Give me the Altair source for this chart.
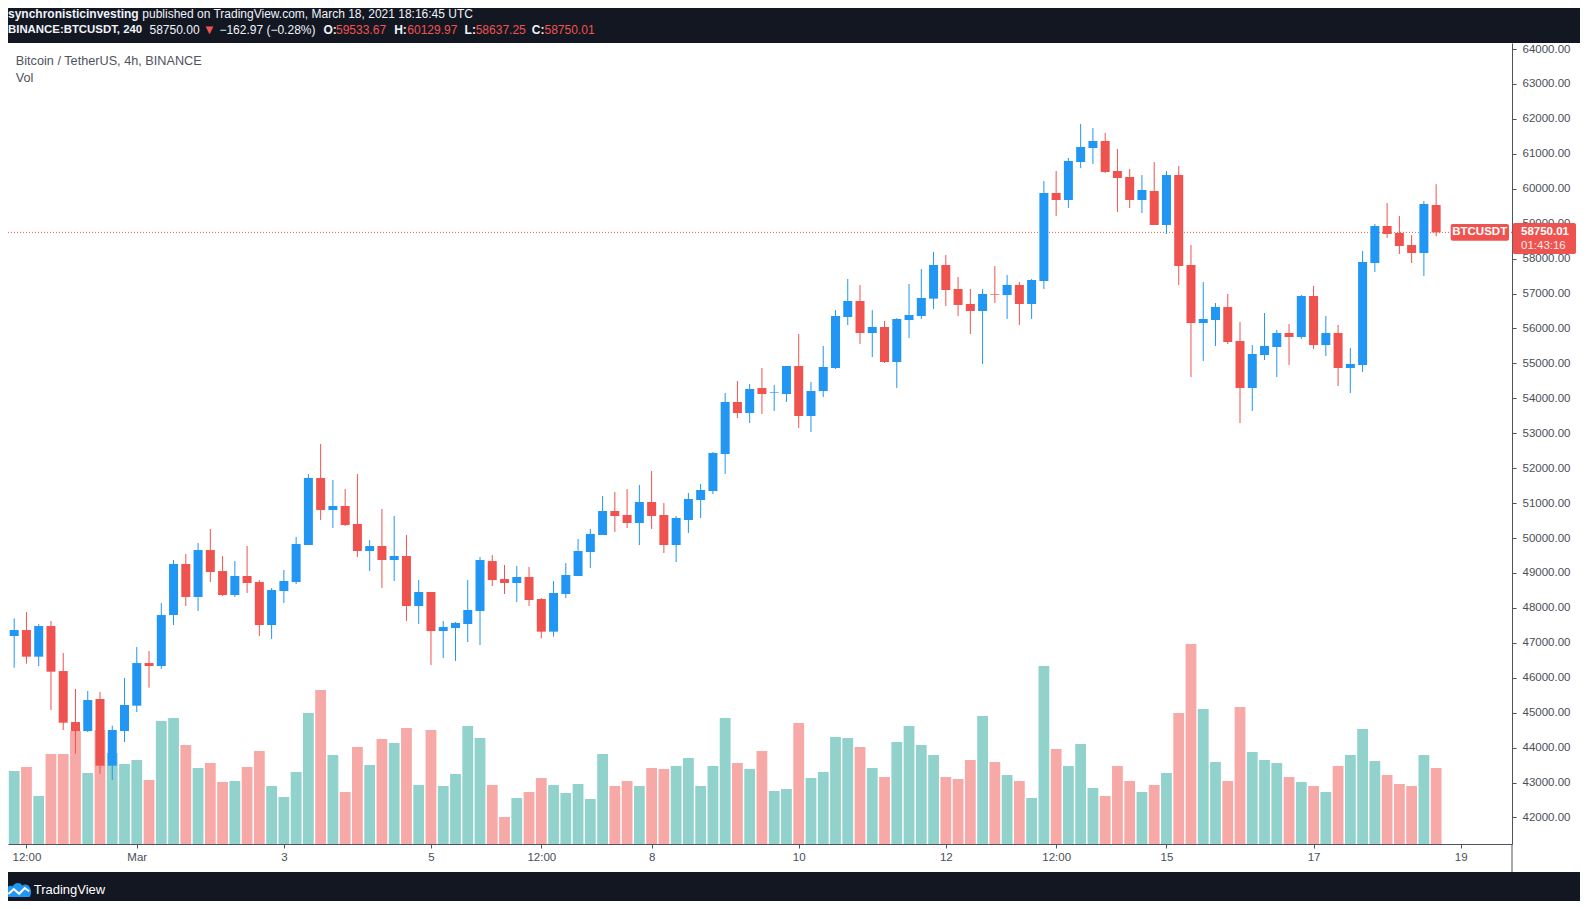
import altair as alt
import pandas as pd

FONT = "Liberation Sans"
BLUE = "#2196F3"
RED = "#EF5350"
VUP = "#92D2CC"
VDN = "#F7A9A7"
DARK = "#131722"
AXIS = "#50535E"
LBL = "#4A4E59"
HEAD = "#F0F3FA"
HRED = "#F05350"

# ---- data (4h candles, Feb 27 08:00 UTC -> Mar 18 16:00 UTC) ----
opens = [47194, 47366, 46603, 47480, 46192, 44732, 44474, 45391, 43482, 44474, 45200, 46421, 46335,
         47795, 49256, 48311, 49656, 49055, 48368, 48912, 48740, 47509, 48483, 48740, 49800, 51718, 50801, 50916,
         50401, 49628, 49771, 49370, 49485, 48053, 48454, 47337, 47423, 47538, 47910, 49341, 48826, 48712, 48883, 48254,
         47319, 48397, 48912, 49600, 50086, 50773, 50659, 50430, 51031, 50659, 49800, 50516, 51088, 51346, 52405,
         53894, 53579, 54294, 54151, 54123, 54924, 53493, 54208, 54867, 56327, 56785, 55869, 56041, 55039, 56241, 56356,
         56853, 57817, 57130, 56700, 56500, 56986, 56958, 57244, 56700, 57358, 59878, 59677, 60765, 61166, 61367, 60508,
         60335, 59677, 59934, 58961, 60392, 57816, 56155, 56241, 56613, 55640, 54294, 55239, 55468, 55869, 55755, 56928,
         55525, 55869, 54867, 54953, 57873, 58932, 58732, 58388, 58159, 59533.67]
highs = [47700, 47881, 47538, 47624, 46708, 45677, 45620, 45591, 44627, 45992, 46879, 46765, 48139,
         49370, 49542, 49857, 50258, 49485, 49341, 49771, 48797, 48568, 49084, 50029, 51832, 52691, 51660, 51403,
         51832, 49943, 50830, 50630, 50086, 48797, 48454, 47624, 47595, 48797, 49456, 49513, 49227, 49198, 49170, 48283,
         48769, 49284, 49972, 50258, 51203, 51317, 51403, 51518, 51919, 51003, 50630, 51289, 51547, 52462, 54152,
         54495, 54409, 54867, 54380, 54924, 55840, 54466, 55497, 56527, 57415, 57243, 56527, 56213, 56298, 57272, 57701,
         58189, 58103, 57473, 57129, 57129, 57788, 57530, 57330, 57416, 60221, 60508, 60880, 61853, 61739, 61596, 61137,
         60564, 60392, 60764, 60507, 60650, 58388, 57329, 56728, 56985, 56184, 55525, 56442, 55955, 56127, 56957, 57214,
         56356, 56098, 55440, 58217, 58990, 59591, 59219, 58675, 59648, 60129.97]
lows = [46288, 46402, 46335, 45076, 44503, 43826, 44446, 43253, 43072, 44160, 45018, 45715, 46250,
        47509, 48053, 47910, 48740, 48340, 48311, 48426, 47194, 47108, 48139, 48683, 49800, 50515, 50286, 50343,
        49456, 49055, 48568, 48769, 47624, 47538, 46364, 46564, 46479, 47022, 46936, 48626, 48397, 48168, 48053, 47128,
        47175, 48283, 48912, 49141, 50086, 50172, 50287, 49800, 50258, 49571, 49313, 50144, 50573, 51260, 51833,
        53436, 53292, 53550, 53636, 53894, 53149, 53035, 54037, 54839, 56098, 55554, 55182, 55010, 54294, 55726, 56270,
        56557, 56643, 56356, 55841, 54982, 56729, 56271, 56099, 56271, 57129, 59219, 59448, 60594, 60708, 60450, 59334,
        59448, 59304, 58961, 58703, 57243, 54609, 55067, 55497, 55554, 53292, 53636, 55096, 54609, 54953, 55697, 55411,
        55211, 54352, 54151, 54753, 57615, 58589, 58131, 57873, 57501, 58637.25]
closes = [47366, 46603, 47480, 46173, 44713, 44474, 45362, 43482, 44503, 45219, 46421, 46335, 47795,
          49256, 48311, 49656, 49027, 48368, 48912, 48712, 47509, 48511, 48769, 49828, 51718, 50801, 50916, 50372,
          49628, 49771, 49370, 49485, 48053, 48454, 47337, 47452, 47567, 47939, 49370, 48797, 48712, 48883, 48225, 47319,
          48426, 48941, 49628, 50115, 50773, 50630, 50430, 51031, 50630, 49800, 50573, 51117, 51375, 52434, 53894,
          53579, 54266, 54123, 54170, 54924, 53493, 54208, 54896, 56356, 56785, 55869, 56041, 55039, 56270, 56384, 56871,
          57817, 57101, 56672, 56500, 56986, 56967, 57244, 56700, 57387, 59878, 59677, 60794, 61195, 61367, 60479, 60307,
          59677, 59963, 58961, 60392, 57787, 56155, 56270, 56613, 55611, 54294, 55268, 55497, 55869, 55755, 56928, 55525,
          55869, 54867, 54982, 57902, 58932, 58703, 58360, 58159, 59562, 58750.01]
volumes = [7300, 7700, 4800, 9000, 9000, 11300, 7100, 11400, 9100, 8000, 8400, 6400, 12300,
           12600, 9900, 7600, 8100, 6200, 6300, 7700, 9300, 5800, 4700, 7200, 13100, 15400, 8900, 5200,
           9700, 7900, 10500, 10100, 11600, 5900, 11400, 5800, 7000, 11800, 10600, 5900, 2700, 4600, 5200, 6600,
           5900, 5100, 6000, 4500, 9000, 5800, 6300, 5800, 7600, 7500, 7800, 8600, 5800, 7800, 12600,
           8100, 7500, 9300, 5300, 5500, 12100, 6600, 7200, 10700, 10600, 9700, 7600, 6700, 10200, 11800, 9900,
           8900, 6700, 6500, 8400, 12800, 8200, 6900, 6300, 4600, 17800, 9500, 7800, 10000, 5600, 4800, 7800,
           6300, 5200, 5900, 7100, 13100, 20000, 13500, 8200, 6300, 13700, 9200, 8400, 8100, 6700, 6200, 5800,
           5200, 7800, 8900, 11500, 8300, 6900, 6000, 5800, 8900, 7600]

tick_idx = [1, 10, 22, 34, 43, 52, 64, 76, 85, 94, 106, 118]
tick_lab = ["12:00", "Mar", "3", "5", "12:00", "8", "10", "12", "12:00", "15", "17", "19"]
price_ticks = list(range(42000, 64001, 1000))
last_price = 58750.01

df = pd.DataFrame({"i": list(range(len(opens))), "o": opens, "h": highs,
                   "l": lows, "c": closes, "v": volumes})
pdf = pd.DataFrame({"p": [last_price]})
one = pd.DataFrame({"z": [0]})

W, H = 1504, 801
xscale = alt.Scale(domain=[-0.097, 121.78], nice=False, zero=False)
yscale = alt.Scale(domain=[41240.3, 64171.8], nice=False, zero=False)
vscale = alt.Scale(domain=[0, 80100], nice=False, zero=True)

expr = "''"
for v, lab in reversed(list(zip(tick_idx, tick_lab))):
    expr = f"datum.value == {v} ? '{lab}' : {expr}"

xax = alt.Axis(orient="bottom", values=tick_idx, labelExpr=expr, title=None, grid=False,
               domainColor=AXIS, tickColor=AXIS, tickSize=4, labelColor=LBL, labelFont=FONT,
               labelFontSize=11.5, labelPadding=3, labelFlush=False, labelOverlap=False)
yax = alt.Axis(orient="right", values=price_ticks, format=".2f", title=None, grid=False,
               domainColor=AXIS, tickColor=AXIS, tickSize=4, labelColor=LBL, labelFont=FONT,
               labelFontSize=11.5, labelPadding=6, labelFlush=False, labelOverlap=False)

X = alt.X("i:Q", scale=xscale, axis=xax)
updown = alt.condition("datum.c >= datum.o", alt.value(BLUE), alt.value(RED))
vcol = alt.condition("datum.c >= datum.o", alt.value(VUP), alt.value(VDN))

base = alt.Chart(df)

vol = base.mark_bar(size=10.8).encode(
    x=X, y=alt.Y("v:Q", scale=vscale, axis=None), color=vcol)

pline = alt.Chart(pdf).mark_rule(color=RED, strokeDash=[1, 2], strokeWidth=1).encode(
    y=alt.Y("p:Q", scale=yscale, axis=yax), x=alt.value(0), x2=alt.value(W))

wick = base.mark_rule(strokeWidth=1).encode(
    x=X, y=alt.Y("l:Q", scale=yscale, axis=yax), y2="h:Q", color=updown)

body = base.transform_calculate(
    lo="min(datum.o, datum.c)", hi="max(datum.o, datum.c)"
).mark_bar(size=9).encode(
    x=X, y=alt.Y("lo:Q", scale=yscale, axis=yax), y2="hi:Q", color=updown)

box1 = alt.Chart(pdf).mark_rect(color=RED, cornerRadius=2, yOffset=-8.4, y2Offset=8.3).encode(
    y=alt.Y("p:Q", scale=yscale, axis=yax), y2="p:Q", x=alt.value(1442.7), x2=alt.value(1501))
box2 = alt.Chart(pdf).mark_rect(color=RED, cornerRadius=2, yOffset=-9.4, y2Offset=21.6).encode(
    y=alt.Y("p:Q", scale=yscale, axis=yax), y2="p:Q", x=alt.value(1504.7), x2=alt.value(1568))


def ptext(s, x, align, weight="normal", dy=0, opacity=1.0):
    return alt.Chart(pdf).mark_text(text=s, align=align, baseline="middle", font=FONT,
                                    fontSize=11.5, fontWeight=weight, color="#FFFFFF",
                                    dy=dy, opacity=opacity).encode(
        y=alt.Y("p:Q", scale=yscale, axis=yax), x=alt.value(x))


t_sym = ptext("BTCUSDT", 1471.7, "center", "bold")
t_last = ptext("58750.01", 1513, "left", "bold")
t_cd = ptext("01:43:16", 1513, "left", "normal", dy=14, opacity=0.9)

price_group = alt.layer(pline, wick, body, box1, box2, t_sym, t_last, t_cd)


def txt(s, x, y, color, size=12, weight="normal", font=FONT):
    return alt.Chart(one).mark_text(text=s, align="left", baseline="middle", font=font,
                                    fontSize=size, fontWeight=weight, color=color).encode(
        x=alt.value(x), y=alt.value(y))


def band(y1, y2):
    return alt.Chart(one).mark_rect(color=DARK).encode(
        x=alt.value(0), x2=alt.value(1572), y=alt.value(y1), y2=alt.value(y2))


L1, L2 = -28.6, -12.8
header = [
    txt("synchronisticinvesting", 0, L1, HEAD, weight="bold"),
    txt("published on TradingView.com, March 18, 2021 18:16:45 UTC", 134.3, L1, HEAD),
    txt("BINANCE:BTCUSDT, 240", 0, L2, HEAD, size=11.4, weight="bold"),
    txt("58750.00", 141.5, L2, HEAD),
    txt("\u25BC", 197.6, L2, HRED, size=10, font="DejaVu Sans"),
    txt("\u2212162.97 (\u22120.28%)", 211.4, L2, HEAD),
    txt("O:", 315.4, L2, HEAD, weight="bold"),
    txt("59533.67", 328, L2, HRED),
    txt("H:", 386.2, L2, HEAD, weight="bold"),
    txt("60129.97", 399.3, L2, HRED),
    txt("L:", 456.6, L2, HEAD, weight="bold"),
    txt("58637.25", 467.7, L2, HRED),
    txt("C:", 523.8, L2, HEAD, weight="bold"),
    txt("58750.01", 536.5, L2, HRED),
]
legend_txt = [
    txt("Bitcoin / TetherUS, 4h, BINANCE", 7.8, 18, "#50535E", size=12.7),
    txt("Vol", 7.8, 34.7, "#50535E", size=12.7),
]

cloud = ("M-1,0.55 L-1,0.1 C-1,-0.25 -0.7,-0.42 -0.45,-0.3 C-0.3,-0.62 0.15,-0.64 0.3,-0.36 "
         "C0.5,-0.52 0.85,-0.46 0.95,-0.1 C1.05,0.1 1,0.4 0.9,0.55 Z")
zig = "M-0.8,0.32 L-0.38,-0.08 L0.05,0.3 L0.5,-0.16 L0.85,0.1"
logo1 = alt.Chart(one).mark_point(shape=cloud, filled=True, size=625, color=BLUE, opacity=1).encode(
    x=alt.value(10.5), y=alt.value(847))
logo2 = alt.Chart(one).mark_point(shape=zig, filled=False, size=625, color="#FFFFFF",
                                  strokeWidth=2, opacity=1).encode(
    x=alt.value(10.5), y=alt.value(847))
footer_txt = txt("TradingView", 25.7, 847, "#FFFFFF", size=13)

axis_ext = alt.Chart(one).mark_rule(color=AXIS, strokeWidth=1).encode(
    x=alt.value(W), y=alt.value(H), y2=alt.value(829))

chart = alt.layer(
    band(-35, 0), band(829, 858), vol, price_group, axis_ext,
    *legend_txt, *header, logo1, logo2, footer_txt
).resolve_scale(y="independent").properties(
    width=W, height=H, background="white",
    padding={"left": 0, "top": 35, "right": 68, "bottom": 57},
    autosize=alt.AutoSizeParams(type="none"),
).configure_view(stroke=None, fill="white")

chart.save("out.html", embed_options={"renderer": "svg", "actions": False})
